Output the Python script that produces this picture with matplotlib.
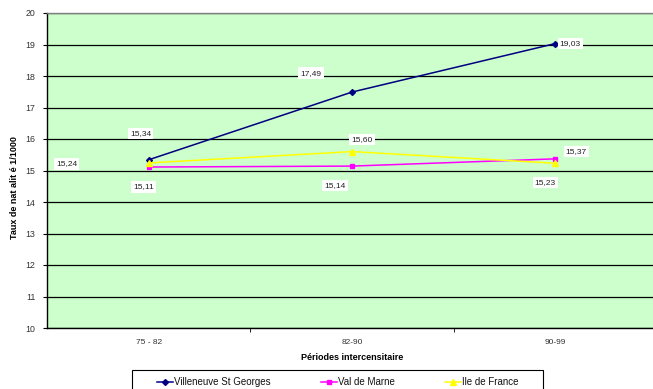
import matplotlib
matplotlib.use("Agg")
import matplotlib.pyplot as plt
from matplotlib.ticker import FixedLocator
from matplotlib.lines import Line2D
from matplotlib.patches import Rectangle

# Data
periods = ["75 - 82", "82-90", "90-99"]
villeneuve = [15.34, 17.49, 19.03]
val_de_marne = [15.11, 15.14, 15.37]
ile_de_france = [15.24, 15.60, 15.23]
series_names = ["Villeneuve St Georges", "Val de Marne", "Ile de France"]

# Label offsets (pixels, +y downwards) for each data label
lbl_off_vsg = [(-8, -26), (-41, -19), (15, 0)]
lbl_off_vdm = [(-5, 20), (-17, 19), (21, -7)]
lbl_off_idf = [(-82, 1), (10, -12), (-10, 19)]

W, H = 653, 389
fig = plt.figure(figsize=(W / 100, H / 100), dpi=100)
fig.patch.set_facecolor("white")
plt.rcParams["font.family"] = ["Liberation Sans", "DejaVu Sans"]

left, right, top, bottom = 47, 657, 13, 328
ax = fig.add_axes([left / W, 1 - bottom / H, (right - left) / W, (bottom - top) / H])
ax.set_facecolor("#CCFFCC")

x = list(range(len(periods)))
styles = [
    (villeneuve, "#000080", "D", 3.0, lbl_off_vsg),
    (val_de_marne, "#FF00FF", "s", 3.5, lbl_off_vdm),
    (ile_de_france, "#FFFF00", "^", 4.0, lbl_off_idf),
]
for (vals, col, mk, ms, offs), name in zip(styles, series_names):
    ax.plot(x, vals, color=col, marker=mk, markersize=ms, linewidth=1.1,
            markeredgecolor=col, markerfacecolor=col, label=name, zorder=3)
    for xi, v, (dx, dy) in zip(x, vals, offs):
        ax.annotate(f"{v:.2f}".replace(".", ","), (xi, v),
                    xytext=(dx * 0.72, -dy * 0.72), textcoords="offset points",
                    ha="center", va="center", fontsize=6, color="#222222",
                    bbox=dict(boxstyle="square,pad=0.25", fc="white", ec="none"),
                    zorder=4)

ax.set_xlim(-0.5, 2.5)
ax.set_ylim(10, 20)
ax.set_yticks(range(10, 21))
ax.yaxis.grid(True, color="black", linewidth=0.9)
ax.set_axisbelow(True)

ax.set_xticks(x)
ax.set_xticklabels(periods, fontsize=6, color="#333333")
ax.tick_params(axis="x", length=0, pad=8)
ax.xaxis.set_minor_locator(FixedLocator([0.5, 1.5]))
ax.tick_params(axis="x", which="minor", length=3, direction="out", color="black")
ax.tick_params(axis="y", labelsize=6.3, length=3, direction="out", labelcolor="#333333", pad=5.5)

for s in ["top", "right"]:
    ax.spines[s].set_color("#808080")
    ax.spines[s].set_linewidth(1.0)
for s in ["left", "bottom"]:
    ax.spines[s].set_color("black")
    ax.spines[s].set_linewidth(1.0)

ax.set_xlabel("Périodes intercensitaire", fontsize=6.5, fontweight="bold", labelpad=5)
fig.text(15 / W, 1 - 188 / H, "Taux de nat alit é 1/1000", rotation=90,
         ha="center", va="center", fontsize=6.5, fontweight="bold")

# Legend box drawn in figure pixels
def fx(px):
    return px / W

def fy(py):
    return 1 - py / H

fig.patches.append(Rectangle((fx(132), fy(396)), fx(543) - fx(132), fy(370) - fy(396),
                             transform=fig.transFigure, fill=False,
                             edgecolor="black", linewidth=0.8))
leg_x = [157, 321, 445]
leg_y = 382
for (vals, col, mk, ms, offs), name, lx in zip(styles, series_names, leg_x):
    fig.lines.append(Line2D([fx(lx), fx(lx + 16)], [fy(leg_y), fy(leg_y)],
                            transform=fig.transFigure, color=col, linewidth=1.1))
    fig.lines.append(Line2D([fx(lx + 8)], [fy(leg_y)], transform=fig.transFigure,
                            color=col, marker=mk, markersize=ms, linestyle="none"))
    fig.text(fx(lx + 17), fy(leg_y), name, ha="left", va="center", fontsize=7,
             color="#111111")

fig.savefig("out.png", dpi=100)
